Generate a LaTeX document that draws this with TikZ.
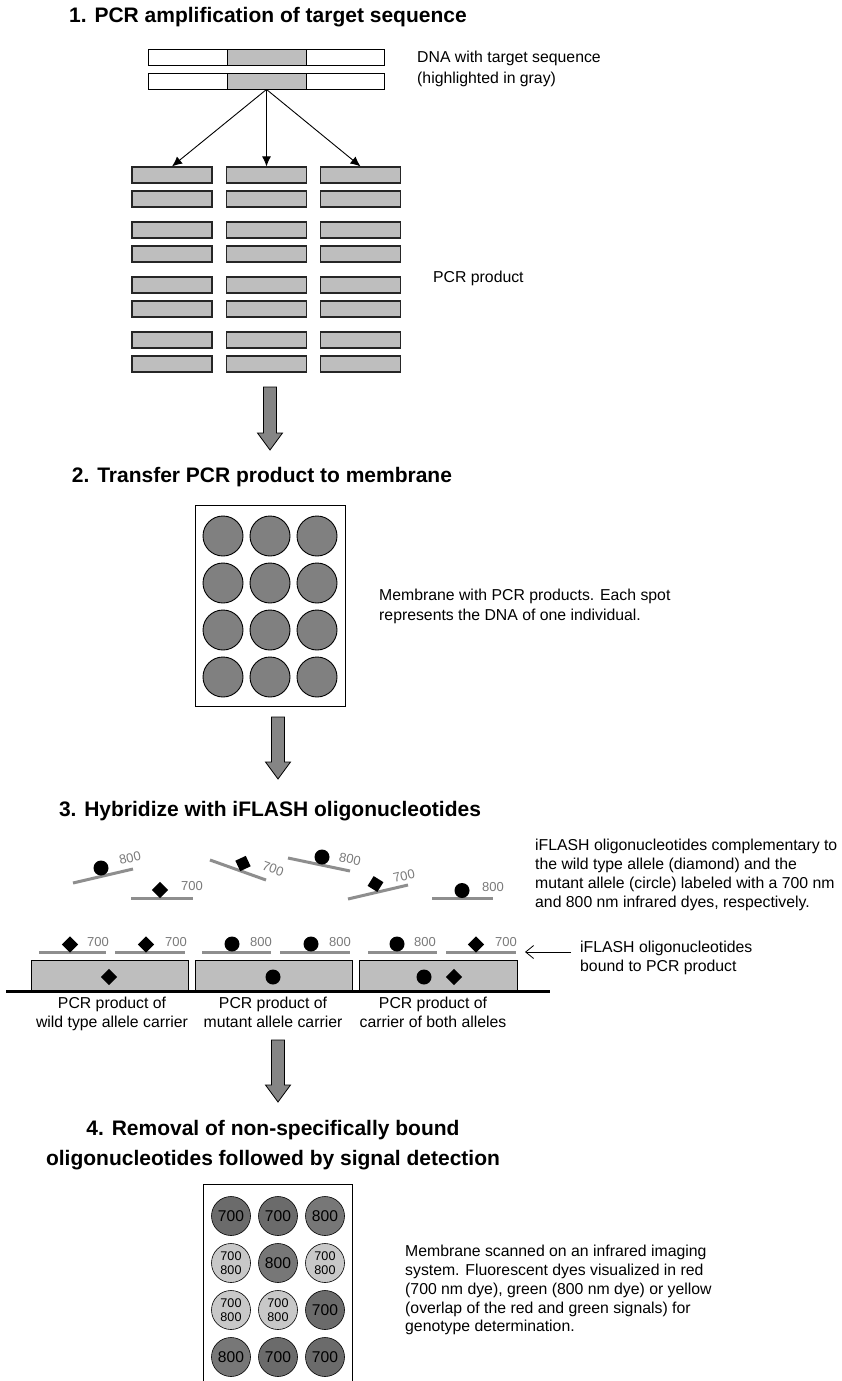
\documentclass[tikz,border=0pt]{standalone}
\usepackage{fontspec}
\setmainfont{Liberation Sans}
\usetikzlibrary{arrows.meta}
\definecolor{pcrgray}{HTML}{BEBEBE}
\definecolor{spotgray}{HTML}{808080}
\definecolor{arrgray}{HTML}{858585}
\definecolor{olgray}{HTML}{8E8E8E}
\definecolor{lblgray}{HTML}{7A7A7A}
\definecolor{sigA}{HTML}{6B6B6B}
\definecolor{sigB}{HTML}{777777}
\definecolor{sigboth}{HTML}{C8C8C8}
\newcommand\blockarrow[3]{\draw[bigarrow] (#1-6.5,#2) -- (#1+6.5,#2) -- (#1+6.5,#3-17) -- (#1+12.5,#3-17) -- (#1,#3) -- (#1-12.5,#3-17) -- (#1-6.5,#3-17) -- cycle;}
\begin{document}
\begin{tikzpicture}[x=1pt,y=-1pt,
  title/.style={font=\fontsize{21}{30}\selectfont\bfseries, inner sep=0, align=center},
  body/.style={font=\fontsize{15.8}{19}\selectfont, inner sep=0, align=left},
  strandw/.style={draw=black, line width=0.9pt, fill=white, minimum height=16, inner sep=0},
  strandg/.style={strandw, fill=pcrgray},
  pcrbox/.style={draw=black!85, line width=1.2pt, fill=pcrgray, minimum width=80, minimum height=16, inner sep=0},
  thinarrow/.style={-{Latex[length=10pt,width=9pt]}, line width=0.9pt},
  bigarrow/.style={draw=black, line width=0.8pt, fill=arrgray},
  spot/.style={circle, draw=black, line width=0.9pt, fill=spotgray, minimum size=40, inner sep=0},
  oligo/.style={draw=olgray, line width=3pt},
  olbl/.style={font=\fontsize{13}{13}\selectfont, text=lblgray, inner sep=0},
  dot/.style={circle, fill=black, minimum size=15, inner sep=0},
  diam/.style={rectangle, fill=black, minimum size=11.5, inner sep=0},
  prod/.style={draw=black, line width=1pt, fill=pcrgray, minimum height=30, inner sep=0},
  sig/.style={circle, draw=black, line width=0.6pt, minimum size=39, inner sep=0, font=\fontsize{15.6}{15.6}\selectfont},
  sigtwo/.style={sig, fill=sigboth, align=center, font=\fontsize{12.6}{14.5}\selectfont},
]
\clip (0,0) rectangle (841,1381);
\useasboundingbox (0,0) rectangle (841,1381);
\fill[white] (0,0) rectangle (841,1381);

% ---------- Section 1 ----------
\node[title, anchor=base] (t1) at (268,23) {1. PCR amplification of target sequence};

\node[strandw, minimum width=79] (s1l) at (187.5,57) {};
\node[strandg, minimum width=79] (s1g) at (266.5,57) {};
\node[strandw, minimum width=78] (s1r) at (345,57) {};
\node[strandw, minimum width=79] (s2l) at (187.5,81) {};
\node[strandg, minimum width=79] (s2g) at (266.5,81) {};
\node[strandw, minimum width=78] (s2r) at (345,81) {};
\node[body, anchor=north west, font=\fontsize{15.8}{21}\selectfont] (dnalbl) at (417,51) {DNA with target sequence\\(highlighted in gray)};

\foreach \c/\x in {1/172,2/266.5,3/360.5}{
  \foreach \r/\y in {1/175,2/199,3/230,4/254,5/285,6/309,7/340,8/364}{
    \node[pcrbox] (p\c-\r) at (\x,\y) {};
  }
}
\foreach \c in {1,2,3}{\draw[thinarrow] (s2g.south) -- (p\c-1.north);}
\node[body, anchor=base west] (pcrlbl) at (433,282) {PCR product};

\blockarrow{270}{387}{450}

% ---------- Section 2 ----------
\node[title, anchor=base] (t2) at (262,482) {2. Transfer PCR product to membrane};
\node[draw=black, line width=0.9pt, minimum width=150, minimum height=201, inner sep=0] (mem) at (270,605.5) {};
\foreach \i/\x in {1/223,2/270,3/317}{
  \foreach \j/\y in {1/536,2/583,3/630,4/677}{
    \node[spot] (m\i-\j) at (\x,\y) {};
  }
}
\node[body, anchor=north west, font=\fontsize{15.8}{20}\selectfont] (memlbl) at (379,589) {Membrane with PCR products. Each spot\\represents the DNA of one individual.};

\blockarrow{278}{717}{779}

% ---------- Section 3 ----------
\node[title, anchor=base] (t3) at (270,816) {3. Hybridize with iFLASH oligonucleotides};

% free oligonucleotides
\draw[oligo] (73,883) -- (133,869);
\node[dot] (f1) at (101,868) {};
\node[olbl, rotate=13] (f1l) at (130,858) {800};

\draw[oligo] (131,898) -- (193,898);
\node[diam, rotate=45] (f2) at (160,890) {};
\node[olbl] (f2l) at (192,886) {700};

\draw[oligo] (210,860) -- (266,880);
\node[diam, rotate=25] (f3) at (243,863.5) {};
\node[olbl, rotate=-20] (f3l) at (273,869) {700};

\draw[oligo] (288,858) -- (350,871);
\node[dot] (f4) at (322,857) {};
\node[olbl, rotate=-12] (f4l) at (350,859) {800};

\draw[oligo] (348,899) -- (408,885);
\node[diam, rotate=58] (f5) at (375.5,884) {};
\node[olbl, rotate=13] (f5l) at (404,876) {700};

\draw[oligo] (432,898) -- (493,898);
\node[dot] (f6) at (462,890.5) {};
\node[olbl] (f6l) at (493,887) {800};

\node[body, anchor=north west] (ifl) at (535,839) {iFLASH oligonucleotides complementary to\\the wild type allele (diamond) and the\\mutant allele (circle) labeled with a 700 nm\\and 800 nm infrared dyes, respectively.};

% bound oligonucleotides
\foreach \a/\b in {39/106,115/185,202/271,280/350,368/437,446/516}{
  \draw[oligo] (\a,952) -- (\b,952);
}
\node[diam, rotate=45] (o1) at (70,944.5) {};
\node[olbl] (o1l) at (98,942) {700};
\node[diam, rotate=45] (o2) at (146,944.5) {};
\node[olbl] (o2l) at (176,942) {700};
\node[dot] (o3) at (232,944) {};
\node[olbl] (o3l) at (261,942) {800};
\node[dot] (o4) at (311,944) {};
\node[olbl] (o4l) at (340,942) {800};
\node[dot] (o5) at (397,944) {};
\node[olbl] (o5l) at (425,942) {800};
\node[diam, rotate=45] (o6) at (476,944.5) {};
\node[olbl] (o6l) at (506,942) {700};

\node[prod, minimum width=157] (b1) at (109.5,975) {};
\node[prod, minimum width=157] (b2) at (273.5,975) {};
\node[prod, minimum width=158] (b3) at (438,975) {};
\draw[line width=3pt] (6,991.5) -- (550,991.5);
\node[diam, rotate=45] (b1d) at (109,977) {};
\node[dot] (b2c) at (273,977) {};
\node[dot] (b3c) at (424,977) {};
\node[diam, rotate=45] (b3d) at (454,977) {};

\node[body, align=center, anchor=north] (b1l) at (112,997) {PCR product of\\wild type allele carrier};
\node[body, align=center, anchor=north] (b2l) at (273,997) {PCR product of\\mutant allele carrier};
\node[body, align=center, anchor=north] (b3l) at (433,997) {PCR product of\\carrier of both alleles};

\node[body, anchor=north west] (blbl) at (580,941) {iFLASH oligonucleotides\\bound to PCR product};
\coordinate (bstart) at (571,952);
\coordinate (btip) at (525,952);
\draw[-{Straight Barb[length=8pt,width=13pt]}, line width=0.8pt] (bstart) -- (btip);

\blockarrow{278}{1040}{1102}

% ---------- Section 4 ----------
\node[title, anchor=north] (t4) at (273,1120) {4. Removal of non-specifically bound\\oligonucleotides followed by signal detection};
\node[draw=black, line width=0.9pt, minimum width=149, minimum height=212, inner sep=0] (scan) at (277.5,1290) {};

\node[sig, fill=sigA] (c11) at (231,1216) {700};
\node[sig, fill=sigA] (c21) at (278,1216) {700};
\node[sig, fill=sigB] (c31) at (325,1216) {800};
\node[sigtwo] (c12) at (231,1263) {700\\800};
\node[sig, fill=sigB] (c22) at (278,1263) {800};
\node[sigtwo] (c32) at (325,1263) {700\\800};
\node[sigtwo] (c13) at (231,1310) {700\\800};
\node[sigtwo] (c23) at (278,1310) {700\\800};
\node[sig, fill=sigA] (c33) at (325,1310) {700};
\node[sig, fill=sigB] (c14) at (231,1357) {800};
\node[sig, fill=sigA] (c24) at (278,1357) {700};
\node[sig, fill=sigA] (c34) at (325,1357) {700};

\node[body, anchor=north west, font=\fontsize{15.8}{18.8}\selectfont] (scanlbl) at (405,1245) {Membrane scanned on an infrared imaging\\system. Fluorescent dyes visualized in red\\(700 nm dye), green (800 nm dye) or yellow\\(overlap of the red and green signals) for\\genotype determination.};
\end{tikzpicture}
\end{document}
